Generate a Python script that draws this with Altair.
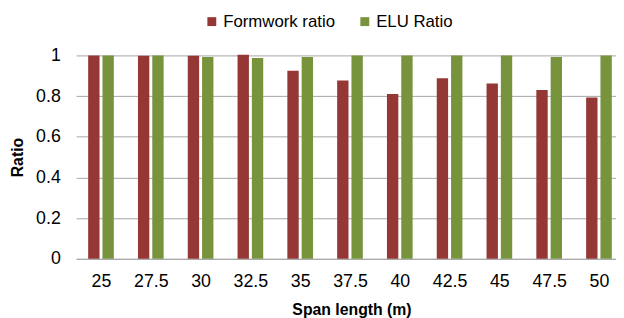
import json
import altair as alt
import pandas as pd

spans = ["25", "27.5", "30", "32.5", "35", "37.5", "40", "42.5", "45", "47.5", "50"]
formwork = [1.0, 0.998, 0.998, 1.003, 0.925, 0.877, 0.810, 0.888, 0.862, 0.830, 0.793]
elu = [1.0, 1.0, 0.992, 0.987, 0.992, 1.0, 1.0, 1.0, 1.0, 0.992, 1.0]
series = ["Formwork ratio", "ELU Ratio"]
colors = ["#953735", "#77933C"]
y_ticks = [0, 0.2, 0.4, 0.6, 0.8, 1]

rows = []
for i, s in enumerate(spans):
    rows.append({"idx": i, "span": s, "series": series[0], "value": formwork[i]})
    rows.append({"idx": i, "span": s, "series": series[1], "value": elu[i]})
df = pd.DataFrame(rows)

FONT = "Liberation Sans"
label_expr = json.dumps(spans) + "[datum.value]"

chart = alt.Chart(df).transform_calculate(
    pos="datum.idx + (datum.series == 'Formwork ratio' ? -0.1437 : 0.1437)"
).mark_bar(orient="vertical", size=11.5).encode(
    x=alt.X(
        "pos:Q",
        scale=alt.Scale(domain=[-0.5, 10.342], nice=False, zero=False, padding=0),
        axis=alt.Axis(
            title="Span length (m)", values=list(range(len(spans))), labelExpr=label_expr,
            labelAngle=0, labelFontSize=18, labelPadding=14,
            ticks=False, grid=False, domain=False, labelFlush=False, labelOverlap=False,
            titleFontSize=16, titleFontWeight="bold", titlePadding=11,
            titleX=279,
            labelColor="#000000", titleColor="#000000",
        ),
    ),
    y=alt.Y(
        "value:Q",
        scale=alt.Scale(domain=[0, 1], nice=False, padding=0),
        axis=alt.Axis(
            title="Ratio", values=y_ticks, format="~g", labelFontSize=18, labelPadding=16,
            ticks=False, domain=False, grid=True,
            gridColor=alt.condition("datum.value == 0", alt.value("#868686"), alt.value("#A6A6A6")),
            gridWidth=1,
            titleFontSize=16, titleFontWeight="bold", titlePadding=10,
            labelColor="#000000", titleColor="#000000",
        ),
    ),
    color=alt.Color(
        "series:N", sort=series,
        scale=alt.Scale(domain=series, range=colors),
        legend=alt.Legend(
            title=None, orient="none", legendX=129, legendY=-43, direction="horizontal",
            symbolType="square", symbolSize=81, symbolStrokeWidth=0, symbolOpacity=1,
            labelFontSize=17, labelOffset=3, columnPadding=21, padding=0,
            labelColor="#000000",
        ),
    ),
).properties(
    width=547,
    height=206,
    autosize=alt.AutoSizeParams(type="none"),
    padding={"left": 69, "top": 46, "right": 0, "bottom": 58},
).configure(
    font=FONT,
).configure_view(
    strokeWidth=0,
)

chart.save("out.html", embed_options={"renderer": "svg", "actions": False})
